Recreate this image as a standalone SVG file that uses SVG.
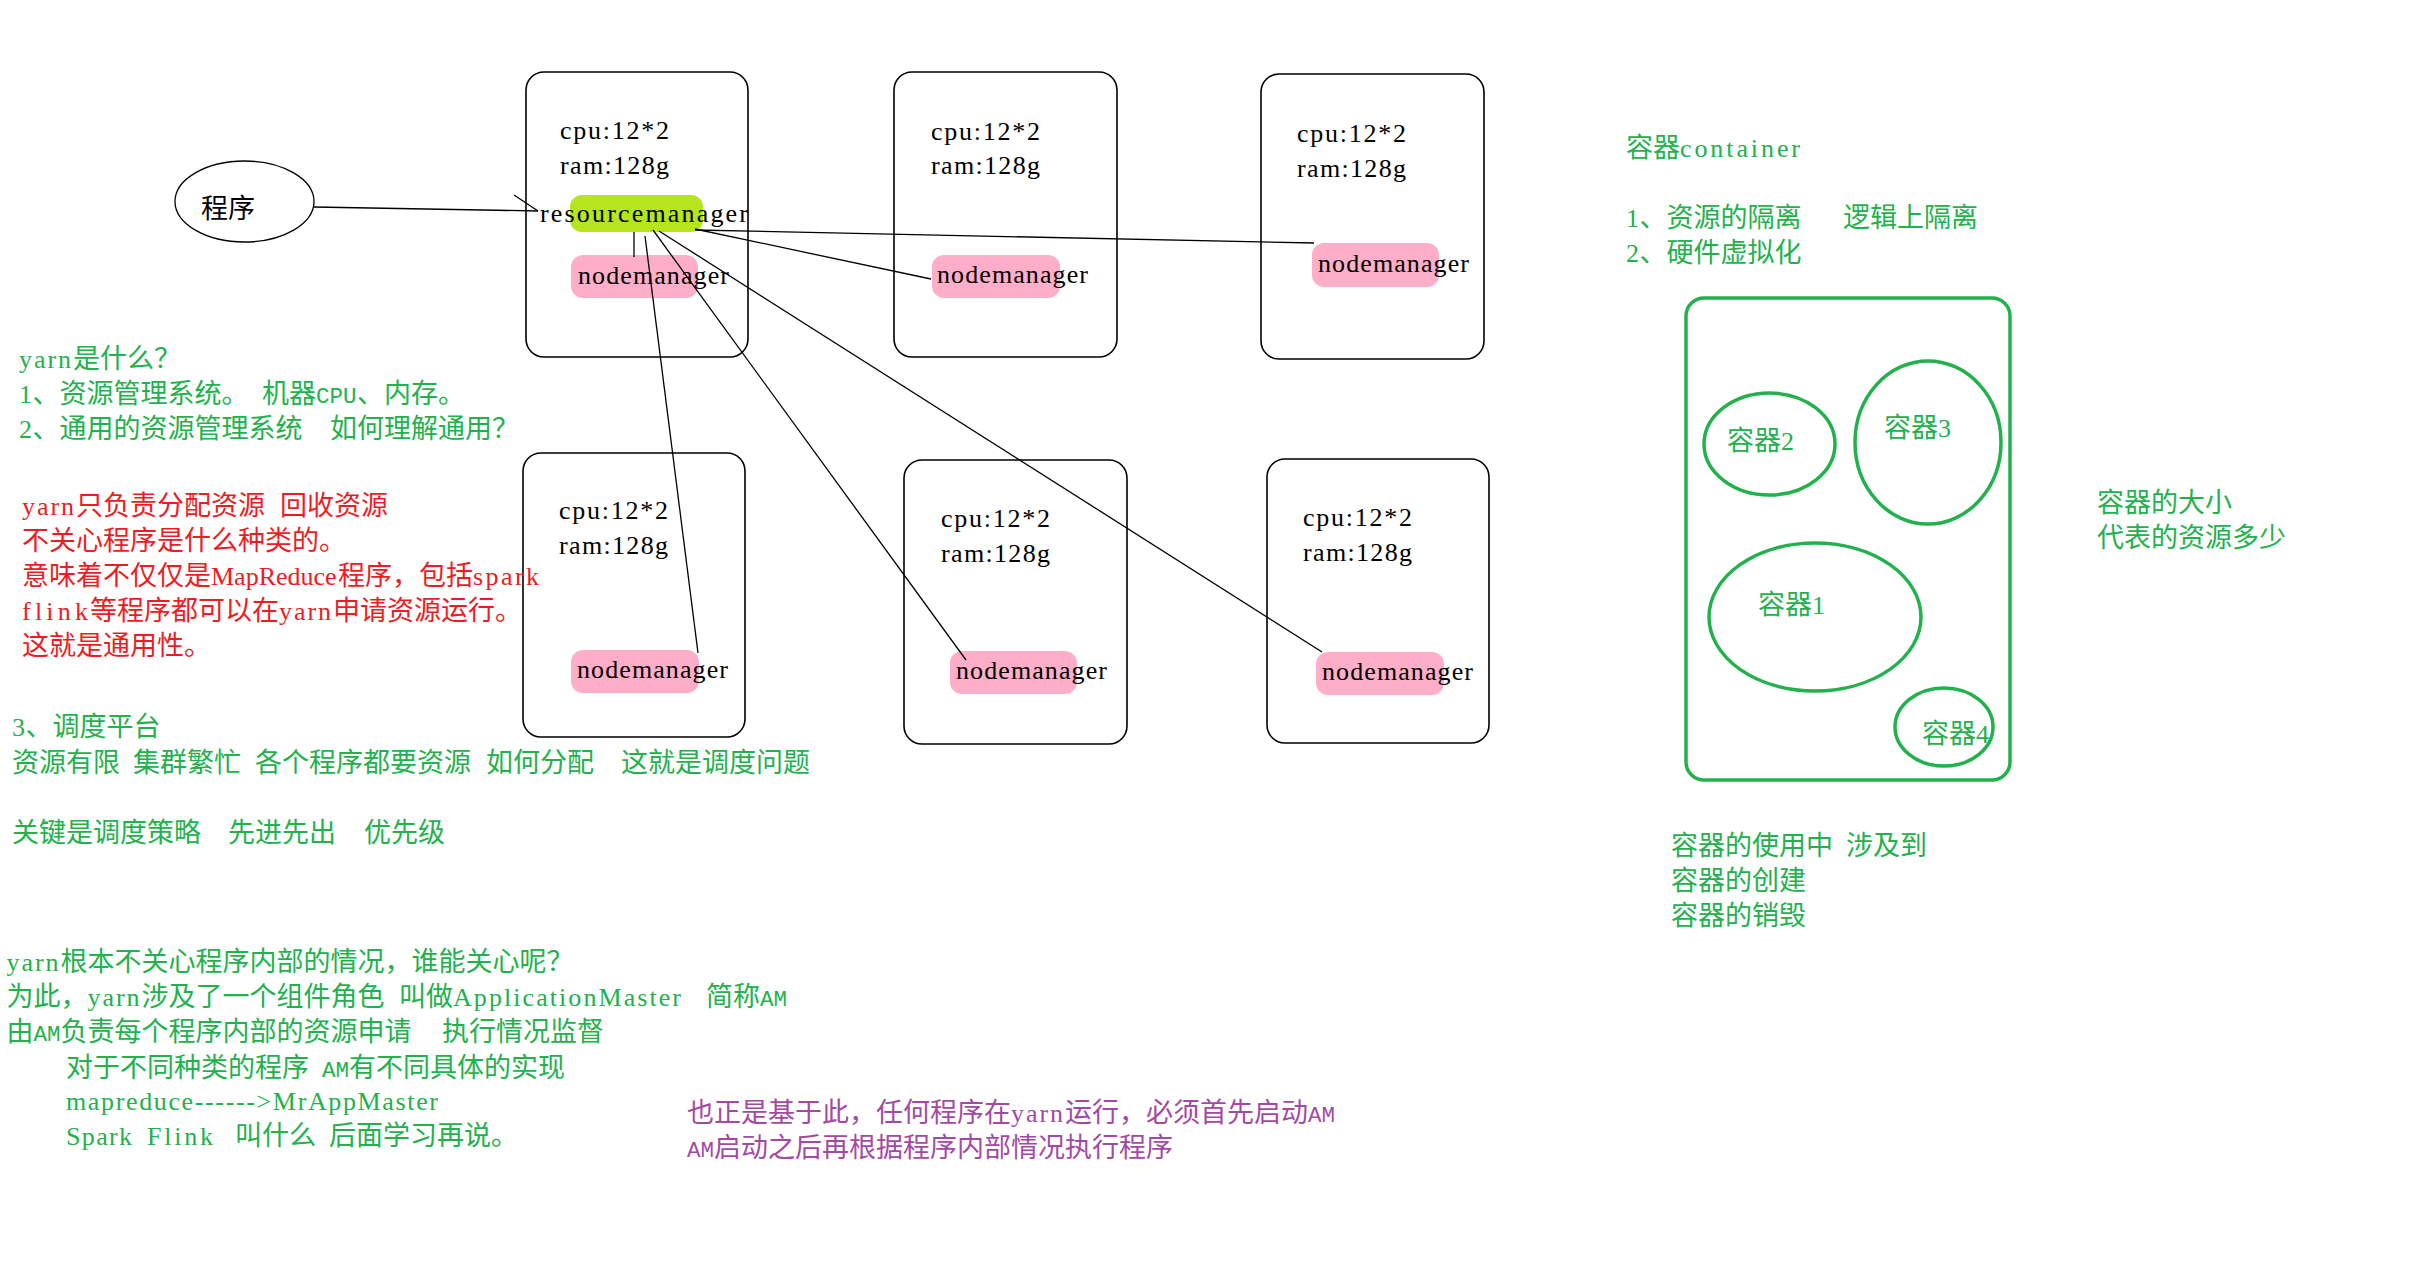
<svg xmlns="http://www.w3.org/2000/svg" width="2424" height="1272" viewBox="0 0 2424 1272">
<style>
text{font-family:"Noto Sans CJK SC",sans-serif;font-size:27px}
.l{font-family:"Liberation Serif",serif;font-size:26px}
.m{font-family:"Liberation Mono",monospace;font-size:22.5px}
.k{fill:#000}
.g{fill:#22b14c}
.r{fill:#ed1c24}
.p{fill:#a349a4}
.box{fill:none;stroke:#000;stroke-width:1.6}
.nm{fill:#ffaec9}
.rm{fill:#b5e61d}
.ct{fill:none;stroke:#22b14c;stroke-width:3.5}
.ln{stroke:#000;stroke-width:1.3;fill:none}
</style>
<rect width="2424" height="1272" fill="#fff"/>

<g id="program">
<ellipse cx="244.5" cy="201.5" rx="69.5" ry="40.5" fill="none" stroke="#000" stroke-width="1.3"/>
<text class="k" x="201" y="218">程序</text>
</g>

<g id="machine1">
<rect class="box" x="526" y="72" width="222" height="285" rx="18"/>
<text class="l k" x="560" y="139" textLength="109" lengthAdjust="spacing">cpu:12*2</text>
<text class="l k" x="560" y="174" textLength="109" lengthAdjust="spacing">ram:128g</text>
</g>
<g id="resourcemanager">
<rect class="rm" x="570" y="195" width="133" height="37" rx="12"/>
<text class="l k" x="540" y="222" textLength="208" lengthAdjust="spacing">resourcemanager</text>
</g>
<g id="nodemanager1">
<rect class="nm" x="571" y="255" width="127" height="43" rx="12"/>
<text class="l k" x="578" y="284" textLength="151" lengthAdjust="spacing">nodemanager</text>
</g>

<g id="machine2">
<rect class="box" x="894" y="72" width="223" height="285" rx="18"/>
<text class="l k" x="931" y="140" textLength="109" lengthAdjust="spacing">cpu:12*2</text>
<text class="l k" x="931" y="174" textLength="109" lengthAdjust="spacing">ram:128g</text>
</g>
<g id="nodemanager2">
<rect class="nm" x="932" y="255" width="128" height="43" rx="12"/>
<text class="l k" x="937" y="283" textLength="151" lengthAdjust="spacing">nodemanager</text>
</g>

<g id="machine3">
<rect class="box" x="1261" y="74" width="223" height="285" rx="18"/>
<text class="l k" x="1297" y="142" textLength="109" lengthAdjust="spacing">cpu:12*2</text>
<text class="l k" x="1297" y="177" textLength="109" lengthAdjust="spacing">ram:128g</text>
</g>
<g id="nodemanager3">
<rect class="nm" x="1312" y="243" width="127" height="44" rx="12"/>
<text class="l k" x="1318" y="272" textLength="151" lengthAdjust="spacing">nodemanager</text>
</g>

<g id="machine4">
<rect class="box" x="523" y="453" width="222" height="284" rx="18"/>
<text class="l k" x="559" y="519" textLength="109" lengthAdjust="spacing">cpu:12*2</text>
<text class="l k" x="559" y="554" textLength="109" lengthAdjust="spacing">ram:128g</text>
</g>
<g id="nodemanager4">
<rect class="nm" x="571" y="650" width="128" height="43" rx="12"/>
<text class="l k" x="577" y="678" textLength="151" lengthAdjust="spacing">nodemanager</text>
</g>

<g id="machine5">
<rect class="box" x="904" y="460" width="223" height="284" rx="18"/>
<text class="l k" x="941" y="527" textLength="109" lengthAdjust="spacing">cpu:12*2</text>
<text class="l k" x="941" y="562" textLength="109" lengthAdjust="spacing">ram:128g</text>
</g>
<g id="nodemanager5">
<rect class="nm" x="950" y="651" width="127" height="43" rx="12"/>
<text class="l k" x="956" y="679" textLength="151" lengthAdjust="spacing">nodemanager</text>
</g>

<g id="machine6">
<rect class="box" x="1267" y="459" width="222" height="284" rx="18"/>
<text class="l k" x="1303" y="526" textLength="109" lengthAdjust="spacing">cpu:12*2</text>
<text class="l k" x="1303" y="561" textLength="109" lengthAdjust="spacing">ram:128g</text>
</g>
<g id="nodemanager6">
<rect class="nm" x="1316" y="652" width="128" height="43" rx="12"/>
<text class="l k" x="1322" y="680" textLength="151" lengthAdjust="spacing">nodemanager</text>
</g>

<g id="connectors">
<line class="ln" x1="314" y1="207" x2="538" y2="211"/>
<line class="ln" x1="514" y1="195" x2="538" y2="211"/>
<line class="ln" x1="634" y1="232" x2="634" y2="257"/>
<line class="ln" x1="645" y1="236" x2="698" y2="653"/>
<line class="ln" x1="653" y1="230" x2="966" y2="660"/>
<line class="ln" x1="659" y1="231" x2="1322" y2="652"/>
<line class="ln" x1="695" y1="229" x2="931" y2="279"/>
<line class="ln" x1="695" y1="230" x2="1314" y2="243"/>
</g>

<g id="notes-yarn">
<text class="g" x="19" y="368"><tspan class="l" textLength="52" lengthAdjust="spacing">yarn</tspan><tspan x="73">是什么？</tspan></text>
<text class="g" x="19" y="403"><tspan class="l">1</tspan><tspan x="32.5">、资源管理系统。</tspan><tspan x="262">机器</tspan><tspan class="m" x="316">CPU</tspan><tspan x="357">、内存。</tspan></text>
<text class="g" x="19" y="438"><tspan class="l">2</tspan><tspan x="32.5">、通用的资源管理系统</tspan><tspan x="330">如何理解通用？</tspan></text>
</g>

<g id="notes-red">
<text class="r" x="22" y="515"><tspan class="l" textLength="52" lengthAdjust="spacing">yarn</tspan><tspan x="76">只负责分配资源</tspan><tspan x="280">回收资源</tspan></text>
<text class="r" x="22" y="550">不关心程序是什么种类的。</text>
<text class="r" x="22" y="585">意味着不仅仅是<tspan class="l" x="211">MapReduce</tspan><tspan x="338">程序，包括</tspan><tspan class="l" x="473" textLength="66" lengthAdjust="spacing">spark</tspan></text>
<text class="r" x="22" y="620"><tspan class="l" textLength="66" lengthAdjust="spacing">flink</tspan><tspan x="90">等程序都可以在</tspan><tspan class="l" x="279" textLength="52" lengthAdjust="spacing">yarn</tspan><tspan x="333">申请资源运行。</tspan></text>
<text class="r" x="22" y="655">这就是通用性。</text>
</g>

<g id="notes-schedule">
<text class="g" x="12" y="736"><tspan class="l">3</tspan><tspan x="25.5">、调度平台</tspan></text>
<text class="g" x="12" y="772">资源有限<tspan x="133">集群繁忙</tspan><tspan x="255">各个程序都要资源</tspan><tspan x="486">如何分配</tspan><tspan x="621">这就是调度问题</tspan></text>
<text class="g" x="12" y="842">关键是调度策略<tspan x="228">先进先出</tspan><tspan x="364">优先级</tspan></text>
</g>

<g id="notes-am">
<text class="g" x="6.5" y="971"><tspan class="l" textLength="52" lengthAdjust="spacing">yarn</tspan><tspan x="60.5">根本不关心程序内部的情况，谁能关心呢？</tspan></text>
<text class="g" x="6.5" y="1006">为此，<tspan class="l" x="87.5" textLength="52" lengthAdjust="spacing">yarn</tspan><tspan x="141.5">涉及了一个组件角色</tspan><tspan x="399">叫做</tspan><tspan class="l" x="453" textLength="228" lengthAdjust="spacing">ApplicationMaster</tspan><tspan x="706">简称</tspan><tspan class="m" x="760">AM</tspan></text>
<text class="g" x="6.5" y="1041">由<tspan class="m" x="33.5">AM</tspan><tspan x="60.5">负责每个程序内部的资源申请</tspan><tspan x="442">执行情况监督</tspan></text>
<text class="g" x="66" y="1077">对于不同种类的程序<tspan class="m" x="322">AM</tspan><tspan x="349">有不同具体的实现</tspan></text>
<text class="g l" x="66" y="1110" textLength="372" lengthAdjust="spacing">mapreduce------&gt;MrAppMaster</text>
<text class="g" x="66" y="1145"><tspan class="l" textLength="66" lengthAdjust="spacing">Spark</tspan><tspan class="l" x="147" textLength="66" lengthAdjust="spacing">Flink</tspan><tspan x="235">叫什么</tspan><tspan x="329">后面学习再说。</tspan></text>
</g>

<g id="notes-purple">
<text class="p" x="687" y="1122">也正是基于此，任何程序在<tspan class="l" x="1011" textLength="52" lengthAdjust="spacing">yarn</tspan><tspan x="1065">运行，必须首先启动</tspan><tspan class="m" x="1308">AM</tspan></text>
<text class="p" x="687" y="1157"><tspan class="m">AM</tspan><tspan x="714">启动之后再根据程序内部情况执行程序</tspan></text>
</g>

<g id="notes-container">
<text class="g" x="1626" y="157">容器<tspan class="l" x="1680" textLength="120" lengthAdjust="spacing">container</tspan></text>
<text class="g" x="1626" y="227"><tspan class="l">1</tspan><tspan x="1639.5">、资源的隔离</tspan><tspan x="1843">逻辑上隔离</tspan></text>
<text class="g" x="1626" y="262"><tspan class="l">2</tspan><tspan x="1639.5">、硬件虚拟化</tspan></text>
<text class="g" x="2097" y="512">容器的大小</text>
<text class="g" x="2097" y="547">代表的资源多少</text>
<text class="g" x="1671" y="855">容器的使用中<tspan x="1846">涉及到</tspan></text>
<text class="g" x="1671" y="890">容器的创建</text>
<text class="g" x="1671" y="925">容器的销毁</text>
</g>

<g id="host">
<rect class="ct" x="1686" y="298" width="324" height="482" rx="18"/>
</g>
<g id="container2">
<ellipse class="ct" cx="1769.5" cy="444" rx="65.5" ry="51"/>
<text class="g" x="1727" y="450">容器<tspan class="l" x="1781">2</tspan></text>
</g>
<g id="container3">
<ellipse class="ct" cx="1928" cy="442.5" rx="73" ry="81.5"/>
<text class="g" x="1884" y="437">容器<tspan class="l" x="1938">3</tspan></text>
</g>
<g id="container1">
<ellipse class="ct" cx="1815" cy="617" rx="106" ry="74"/>
<text class="g" x="1758" y="614">容器<tspan class="l" x="1812">1</tspan></text>
</g>
<g id="container4">
<ellipse class="ct" cx="1944" cy="727" rx="49" ry="39"/>
<text class="g" x="1922" y="743">容器<tspan class="l" x="1976">4</tspan></text>
</g>
</svg>
